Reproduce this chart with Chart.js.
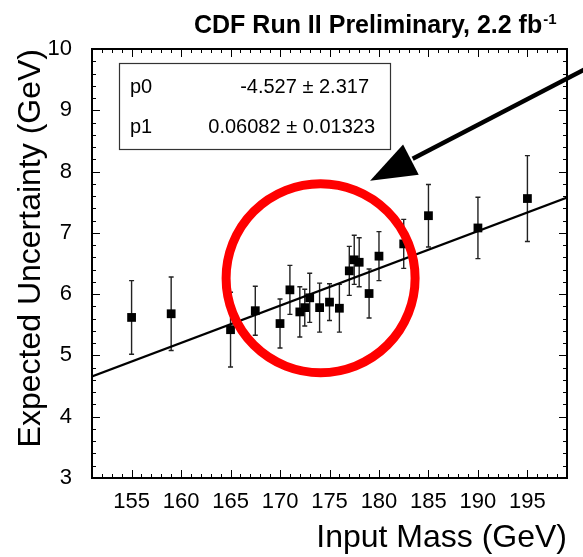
<!DOCTYPE html>
<html>
<head>
<meta charset="utf-8">
<script src="https://cdn.jsdelivr.net/npm/chart.js@4.4.1/dist/chart.umd.min.js"></script>
<style>
  html, body { margin: 0; padding: 0; background: #fff; }
</style>
</head>
<body>
<canvas id="chart" width="583" height="557"></canvas>
<script>
// values
var inputMass = [155, 159, 165, 167.5, 170, 171, 172, 172.5, 173, 174, 175, 176, 177, 177.5, 178, 179, 180, 182.5, 185, 190, 195];
var expUnc    = [5.62, 5.68, 5.42, 5.73, 5.52, 6.07, 5.71, 5.78, 5.94, 5.78, 5.87, 5.77, 6.38, 6.56, 6.52, 6.01, 6.62, 6.82, 7.28, 7.08, 7.56];
var uncErr    = [0.60, 0.60, 0.61, 0.40, 0.40, 0.40, 0.41, 0.30, 0.40, 0.40, 0.30, 0.39, 0.40, 0.40, 0.40, 0.40, 0.40, 0.40, 0.51, 0.50, 0.70];

// fitted straight line, end points
var fitMass = [151, 199];
var fitUnc  = [4.657, 7.576];

var xTickLabels = [155, 160, 165, 170, 175, 180, 185, 190, 195];
var yTickLabels = [3, 4, 5, 6, 7, 8, 9, 10];

var fitNames  = ['p0', 'p1'];
var fitValues = ['-4.527 \u00b1 2.317', '0.06082 \u00b1 0.01323'];

// annotation: red ring and arrow (data units)
var ringCenter = [174.1, 6.26];
var arrowTip   = [179.1, 7.85];
var arrowTail  = [201.3, 9.71];

var FONT = '"Liberation Sans", Arial, Helvetica, sans-serif';

var cdfDecor = {
    id: 'cdfDecor',
    beforeDatasetsDraw: function (chart) {
        var ctx = chart.ctx, xs = chart.scales.x, ys = chart.scales.y;
        ctx.save();
        ctx.strokeStyle = '#222';
        ctx.lineWidth = 1.4;
        inputMass.forEach(function (m, i) {
            var px = xs.getPixelForValue(m);
            var top = ys.getPixelForValue(expUnc[i] + uncErr[i]);
            var bot = ys.getPixelForValue(expUnc[i] - uncErr[i]);
            ctx.beginPath();
            ctx.moveTo(px, top); ctx.lineTo(px, bot);
            ctx.moveTo(px - 2.5, top); ctx.lineTo(px + 2.5, top);
            ctx.moveTo(px - 2.5, bot); ctx.lineTo(px + 2.5, bot);
            ctx.stroke();
        });
        ctx.restore();
    },
    afterDraw: function (chart) {
        var ctx = chart.ctx, xs = chart.scales.x, ys = chart.scales.y;
        var a = chart.chartArea;
        var v, px, py, len;
        ctx.save();

        // frame
        ctx.strokeStyle = '#000';
        ctx.lineWidth = 2;
        ctx.strokeRect(a.left, a.top, a.right - a.left, a.bottom - a.top);

        // inward ticks on all four sides
        ctx.lineWidth = 1;
        ctx.beginPath();
        for (v = 151; v <= 199; v++) {
            px = Math.round(xs.getPixelForValue(v)) + 0.5;
            len = (v % 5 === 0) ? 8 : 4;
            ctx.moveTo(px, a.bottom); ctx.lineTo(px, a.bottom - len);
            ctx.moveTo(px, a.top); ctx.lineTo(px, a.top + len);
        }
        for (v = 0; v <= 35; v++) {
            py = Math.round(ys.getPixelForValue(3 + v * 0.2)) + 0.5;
            len = (v % 5 === 0) ? 8 : 4;
            ctx.moveTo(a.left, py); ctx.lineTo(a.left + len, py);
            ctx.moveTo(a.right, py); ctx.lineTo(a.right - len, py);
        }
        ctx.stroke();

        // fit parameter box
        ctx.strokeStyle = '#333';
        ctx.lineWidth = 1.2;
        ctx.strokeRect(119.5, 63.5, 271, 86);
        ctx.fillStyle = '#000';
        ctx.font = '20px ' + FONT;
        ctx.textBaseline = 'alphabetic';
        fitNames.forEach(function (name, i) {
            ctx.textAlign = 'left';
            ctx.fillText(name, 130, 93 + i * 40);
            ctx.textAlign = 'right';
            ctx.fillText(fitValues[i], i === 0 ? 369 : 375, 93 + i * 40);
        });

        // title
        ctx.textAlign = 'left';
        ctx.font = 'bold 25px ' + FONT;
        var title = 'CDF Run II Preliminary, 2.2 fb';
        ctx.fillText(title, 194, 33);
        var tw = ctx.measureText(title).width;
        ctx.font = 'bold 15px ' + FONT;
        ctx.fillText('-1', 194 + tw + 1, 24);

        // red ring
        ctx.beginPath();
        ctx.arc(xs.getPixelForValue(ringCenter[0]), ys.getPixelForValue(ringCenter[1]), 94.5, 0, 2 * Math.PI);
        ctx.strokeStyle = '#ff0000';
        ctx.lineWidth = 9;
        ctx.stroke();

        // arrow
        var tx = xs.getPixelForValue(arrowTip[0]), ty = ys.getPixelForValue(arrowTip[1]);
        var sx = xs.getPixelForValue(arrowTail[0]), sy = ys.getPixelForValue(arrowTail[1]);
        var dx = sx - tx, dy = sy - ty, d = Math.sqrt(dx * dx + dy * dy);
        var ux = dx / d, uy = dy / d;
        var headLen = 46, headHalf = 17;
        var bx = tx + ux * headLen, by = ty + uy * headLen;
        ctx.strokeStyle = '#000';
        ctx.lineWidth = 4.5;
        ctx.beginPath();
        ctx.moveTo(sx, sy); ctx.lineTo(bx + ux * 2, by + uy * 2);
        ctx.stroke();
        ctx.fillStyle = '#000';
        ctx.beginPath();
        ctx.moveTo(tx, ty);
        ctx.lineTo(bx - uy * headHalf, by + ux * headHalf);
        ctx.lineTo(bx + uy * headHalf, by - ux * headHalf);
        ctx.closePath();
        ctx.fill();

        ctx.restore();
    }
};

new Chart(document.getElementById('chart'), {
    type: 'scatter',
    data: {
        datasets: [{
            label: 'expected uncertainty',
            data: inputMass.map(function (m, i) { return {x: m, y: expUnc[i]}; }),
            pointStyle: 'rect',
            pointRadius: 6.2,
            backgroundColor: '#000',
            borderWidth: 0
        }, {
            type: 'line',
            label: 'fit',
            data: fitMass.map(function (m, i) { return {x: m, y: fitUnc[i]}; }),
            borderColor: '#000',
            borderWidth: 2.2,
            pointRadius: 0,
            fill: false
        }]
    },
    options: {
        responsive: false,
        devicePixelRatio: 1,
        animation: false,
        layout: {padding: {top: 49, right: 16, left: 0, bottom: 0}},
        plugins: {
            legend: {display: false},
            tooltip: {enabled: false}
        },
        scales: {
            x: {
                type: 'linear',
                min: 151,
                max: 199,
                afterBuildTicks: function (s) { s.ticks = xTickLabels.map(function (v) { return {value: v}; }); },
                afterFit: function (s) { s.height = 79; },
                grid: {display: false, drawTicks: false},
                border: {display: false},
                ticks: {
                    color: '#000',
                    font: {family: FONT, size: 22},
                    padding: 11,
                    maxRotation: 0,
                    autoSkip: false
                },
                title: {
                    display: true,
                    text: 'Input Mass (GeV)',
                    align: 'end',
                    color: '#000',
                    font: {family: FONT, size: 32},
                    padding: {top: 0, bottom: 0}
                }
            },
            y: {
                type: 'linear',
                min: 3,
                max: 10,
                afterBuildTicks: function (s) { s.ticks = yTickLabels.map(function (v) { return {value: v}; }); },
                afterFit: function (s) { s.width = 92; },
                grid: {display: false, drawTicks: false},
                border: {display: false},
                ticks: {
                    color: '#000',
                    font: {family: FONT, size: 22},
                    padding: 20
                },
                title: {
                    display: true,
                    text: 'Expected Uncertainty (GeV)',
                    align: 'end',
                    color: '#000',
                    font: {family: FONT, size: 32},
                    padding: {top: 12, bottom: 0}
                }
            }
        }
    },
    plugins: [cdfDecor]
});
</script>
</body>
</html>
